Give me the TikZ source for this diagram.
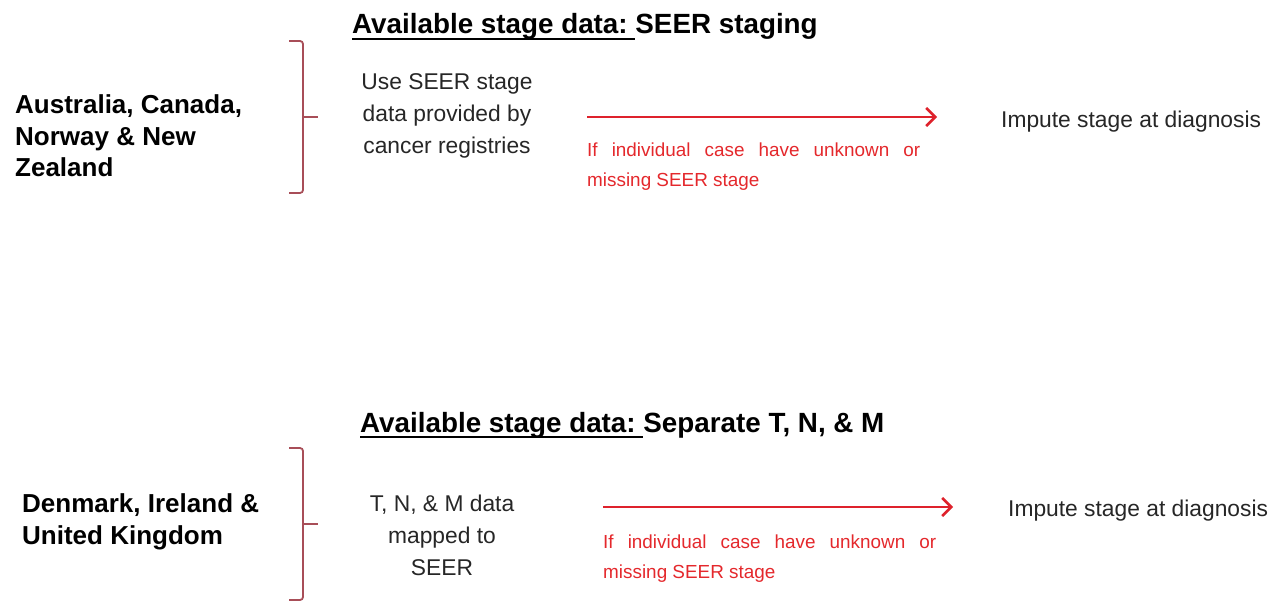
\documentclass[tikz,border=0pt]{standalone}
\usepackage{fontspec}
\setmainfont{Liberation Sans}
\usetikzlibrary{arrows.meta}

\definecolor{flowred}{RGB}{222,34,44}
\definecolor{notered}{RGB}{228,40,44}
\definecolor{bracered}{RGB}{168,78,88}
\definecolor{bodygray}{RGB}{38,38,38}

\newcommand\headline[1]{\setbox0\hbox{#1}\rlap{\rule[-6pt]{\wd0}{2.4pt}}\box0}

\begin{document}
\begin{tikzpicture}[x=1pt,y=-1pt,inner sep=0pt]
  \tikzstyle{heading}=[anchor=base west,font=\bfseries\fontsize{27.8}{33}\selectfont]
  \tikzstyle{country}=[anchor=base west,align=left,font=\bfseries\fontsize{26}{31.5}\selectfont]
  \tikzstyle{source}=[anchor=base,align=center,text=bodygray,font=\fontsize{22.8}{32}\selectfont]
  \tikzstyle{note}=[anchor=base west,text width=333pt,align=justify,text=notered,font=\fontsize{18.9}{30}\selectfont]
  \tikzstyle{result}=[anchor=base west,text=bodygray,font=\fontsize{22.8}{27}\selectfont]
  \tikzstyle{group}=[draw=bracered,line width=1.8pt,rounded corners=3pt]
  \tikzstyle{flow}=[draw=flowred,line width=2.6pt,-{Straight Barb[length=9pt,width=18pt]}]

  \useasboundingbox (0,0) rectangle (1281,601);

  % SEER staging
  \node[heading] (ausHead) at (352,34) {\headline{Available stage data:\ }SEER staging};
  \node[country] (ausLand) at (15,177) {Australia, Canada,\\Norway \& New\\Zealand};
  \node[source]  (ausSrc)  at (447,154) {Use SEER stage\\data provided by\\cancer registries};
  \node[note]    (ausNote) at (587,157) {If individual case have unknown or\linebreak missing SEER stage};
  \node[result]  (ausOut)  at (1001,128) {Impute stage at diagnosis};
  \coordinate (ausFrom) at (587,117);
  \coordinate (ausTo)   at (937,117);

  \draw[flow] (ausFrom) -- (ausTo);
  \draw[group] (289,41) -| (303,193) -- (289,193);
  \draw[group] (303,117) -- (318,117);

  % separate T, N, M
  \node[heading] (ukHead) at (360,432) {\headline{Available stage data:\ }Separate T, N, \& M};
  \node[country] (ukLand) at (22,544) {Denmark, Ireland \&\\United Kingdom};
  \node[source]  (ukSrc)  at (442,575) {T, N, \& M data\\mapped to\\SEER};
  \node[note]    (ukNote) at (603,548) {If individual case have unknown or\linebreak missing SEER stage};
  \node[result]  (ukOut)  at (1008,516) {Impute stage at diagnosis};
  \coordinate (ukFrom) at (603,507);
  \coordinate (ukTo)   at (953,507);

  \draw[flow] (ukFrom) -- (ukTo);
  \draw[group] (289,448) -| (303,600) -- (289,600);
  \draw[group] (303,524) -- (318,524);
\end{tikzpicture}
\end{document}
